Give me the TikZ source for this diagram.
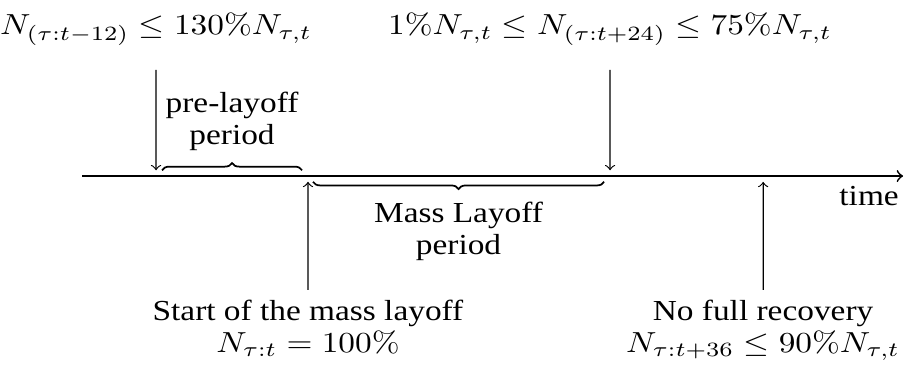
\documentclass[tikz,border=0pt]{standalone}
\usepackage[no-math]{fontspec}
\setmainfont{Liberation Serif}
\usepackage{amsmath}
\usetikzlibrary{
  positioning,
  decorations.pathreplacing
}

\begin{document}
\begin{tikzpicture}[
  xscale=1.15, transform shape,
  txt/.style={align=center, font=\fontsize{10}{11}\selectfont},
  timeaxis/.style={->, semithick},
  marker/.style={->},
  condarr/.style={->, shorten <=5pt},
  brace/.style={decorate, decoration={brace}, semithick},
  mbrace/.style={decorate, decoration={brace, mirror}, semithick}
]
  \useasboundingbox (-0.864,-2.351) rectangle (8.661,2.133);

  % Time axis
  \coordinate (t0) at (0,0);
  \coordinate (t1) at (8.65,0);
  \draw[timeaxis] (t0) -- (t1)
    node[txt, anchor=north east, inner xsep=1pt] (time) {time};

  % Conditions above the axis
  \node[txt, anchor=base] (pre) at (0.78,1.71)
    {$N_{(\tau:t-12)} \leq 130\% N_{\tau,t}$};
  \node[txt, anchor=base] (post) at (5.563,1.71)
    {$1\% N_{\tau,t} \leq N_{(\tau:t+24)} \leq 75\% N_{\tau,t}$};

  \coordinate (preend) at (0.78,0.07);
  \coordinate (postend) at (5.563,0.07);
  \draw[condarr] (pre) -- (preend);
  \draw[condarr] (post) -- (postend);

  % Events below the axis
  \node[txt, anchor=north] (start) at (2.381,-1.38)
    {Start of the mass layoff\\ $N_{\tau:t} = 100\%$};
  \node[txt, anchor=north] (recov) at (7.176,-1.38)
    {No full recovery\\ $N_{\tau:t+36} \leq 90\% N_{\tau,t}$};

  \coordinate (startend) at (2.381,-0.07);
  \coordinate (recovend) at (7.176,-0.07);
  \draw[marker] (start) -- (startend);
  \draw[marker] (recov) -- (recovend);

  % Periods
  \coordinate (preA) at (0.843,0.07);
  \coordinate (preB) at (2.318,0.07);
  \coordinate (massA) at (2.434,-0.07);
  \coordinate (massB) at (5.500,-0.07);

  \draw[brace] (preA) -- (preB)
    node[txt, midway, above=3pt] (prelbl) {pre-layoff\\ period};
  \draw[mbrace] (massA) -- (massB)
    node[txt, midway, below=3.5pt] (masslbl) {Mass Layoff\\ period};

\end{tikzpicture}
\end{document}
